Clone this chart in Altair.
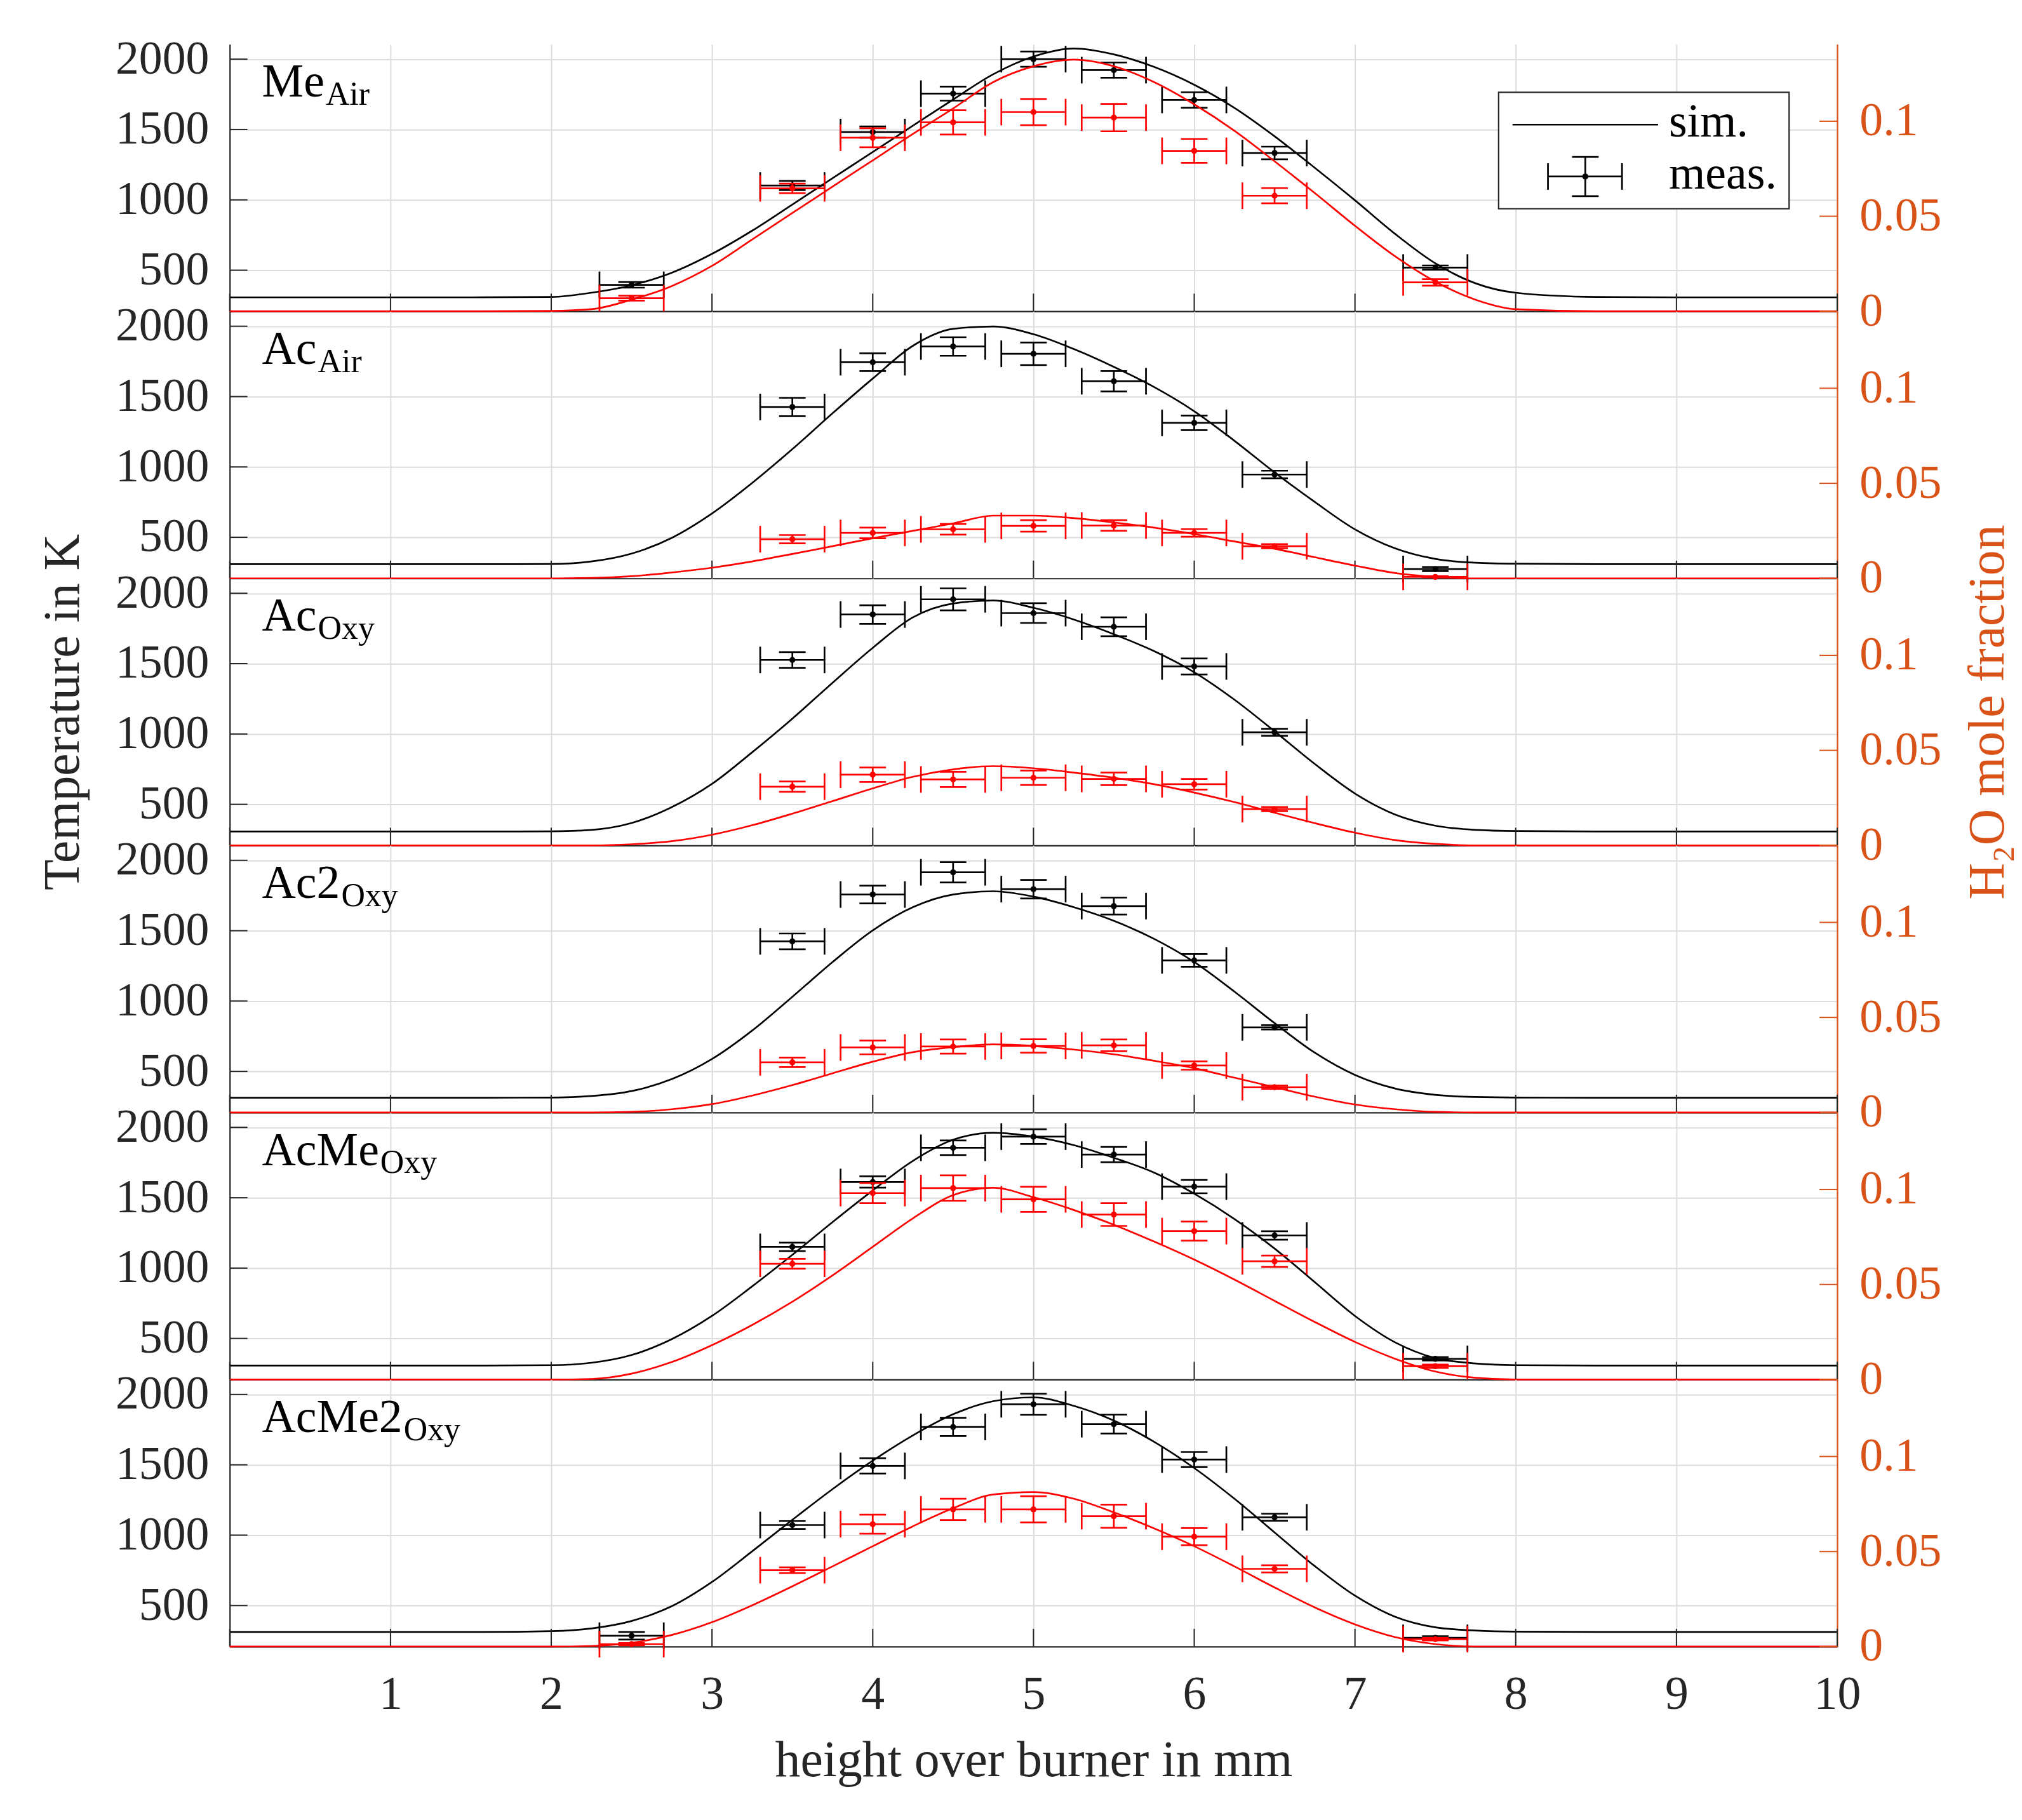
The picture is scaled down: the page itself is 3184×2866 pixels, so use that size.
import altair as alt
import pandas as pd

# ---------------- data ----------------
X_SIM = [0, 1, 1.5, 2, 2.25, 2.5, 2.75, 3, 3.25, 3.5, 3.75, 4, 4.25, 4.5, 4.75,
         5, 5.25, 5.5, 5.75, 6, 6.25, 6.5, 6.75, 7, 7.25, 7.5, 7.75, 8, 8.5, 9, 10]

LABEL_MAIN = ["Me", "Ac", "Ac", "Ac2", "AcMe", "AcMe2"]
LABEL_SUB = ["Air", "Air", "Oxy", "Oxy", "Oxy", "Oxy"]

T_SIM = [
    [307, 307, 307, 310, 340, 393, 482, 616, 781, 967, 1154, 1340, 1527, 1713, 1893, 2019, 2076, 2034, 1945, 1818, 1654, 1452, 1228, 997, 758, 549, 407, 340, 310, 307, 307],
    [309, 309, 309, 310, 328, 384, 496, 669, 886, 1126, 1381, 1628, 1861, 1981, 1998, 1943, 1838, 1711, 1568, 1396, 1186, 961, 751, 556, 421, 346, 319, 312, 309, 309, 309],
    [307, 307, 307, 308, 318, 367, 480, 645, 870, 1109, 1364, 1612, 1829, 1927, 1949, 1897, 1814, 1709, 1589, 1439, 1244, 1019, 787, 577, 427, 348, 318, 310, 307, 307, 307],
    [313, 313, 313, 314, 325, 360, 445, 588, 790, 1030, 1277, 1502, 1667, 1757, 1780, 1742, 1667, 1570, 1442, 1277, 1067, 843, 633, 475, 378, 333, 318, 314, 313, 313, 313],
    [307, 307, 307, 310, 327, 382, 495, 660, 870, 1094, 1327, 1552, 1762, 1912, 1961, 1934, 1874, 1784, 1679, 1529, 1349, 1139, 900, 660, 472, 360, 322, 310, 307, 307, 307],
    [312, 312, 312, 318, 337, 390, 495, 667, 885, 1109, 1327, 1529, 1709, 1859, 1952, 1979, 1919, 1814, 1664, 1477, 1259, 1019, 780, 570, 420, 345, 322, 314, 312, 312, 312],
]
H_SIM = [
    [0, 0, 0, 0.0002, 0.0011, 0.0061, 0.0133, 0.0239, 0.0378, 0.0517, 0.0656, 0.0794, 0.0933, 0.1067, 0.1206, 0.1289, 0.1324, 0.1289, 0.1206, 0.1089, 0.095, 0.0789, 0.0622, 0.045, 0.0289, 0.0156, 0.0061, 0.0011, 0, 0, 0],
    [0, 0, 0, 0, 0.0002, 0.0011, 0.0031, 0.0056, 0.0089, 0.0128, 0.0169, 0.0211, 0.025, 0.0289, 0.033, 0.033, 0.0317, 0.0294, 0.0267, 0.0233, 0.0194, 0.0156, 0.0111, 0.0067, 0.0028, 0.0008, 0, 0, 0, 0, 0],
    [0, 0, 0, 0, 0, 0.0006, 0.0022, 0.0056, 0.0106, 0.0167, 0.0233, 0.03, 0.0361, 0.04, 0.0417, 0.0406, 0.0383, 0.0356, 0.0322, 0.0278, 0.0228, 0.0172, 0.0117, 0.0067, 0.0028, 0.0008, 0, 0, 0, 0, 0],
    [0, 0, 0, 0, 0, 0.0003, 0.0017, 0.0044, 0.0089, 0.0144, 0.0206, 0.0267, 0.0317, 0.0344, 0.0358, 0.035, 0.0331, 0.0306, 0.0272, 0.0233, 0.0183, 0.0133, 0.0083, 0.0042, 0.0017, 0.0003, 0, 0, 0, 0, 0],
    [0, 0, 0, 0, 0.0003, 0.0031, 0.0092, 0.0181, 0.0287, 0.0409, 0.0548, 0.0698, 0.0848, 0.097, 0.1009, 0.0959, 0.0892, 0.0814, 0.0726, 0.0631, 0.0526, 0.0414, 0.0303, 0.0198, 0.0109, 0.0042, 0.0009, 0, 0, 0, 0],
    [0, 0, 0, 0, 0.0003, 0.002, 0.0061, 0.0128, 0.0217, 0.0317, 0.0422, 0.0528, 0.0633, 0.0728, 0.08, 0.0813, 0.0778, 0.0706, 0.0622, 0.0528, 0.0422, 0.0311, 0.0206, 0.0117, 0.005, 0.0013, 0, 0, 0, 0, 0],
]

X_MEAS = [
    [2.5, 3.5, 4, 4.5, 5, 5.5, 6, 6.5, 7.5],
    [3.5, 4, 4.5, 5, 5.5, 6, 6.5, 7.5],
    [3.5, 4, 4.5, 5, 5.5, 6, 6.5],
    [3.5, 4, 4.5, 5, 5.5, 6, 6.5],
    [3.5, 4, 4.5, 5, 5.5, 6, 6.5, 7.5],
    [2.5, 3.5, 4, 4.5, 5, 5.5, 6, 6.5, 7.5],
]
X_ERR = 0.2
T_MEAS = [
    [396, 1102, 1482, 1755, 2000, 1922, 1710, 1333, 519],
    [1426, 1744, 1856, 1804, 1609, 1313, 946, 274],
    [1526, 1849, 1957, 1859, 1762, 1480, 1012],
    [1424, 1757, 1915, 1795, 1675, 1289, 813],
    [1151, 1612, 1855, 1934, 1807, 1579, 1232, 355],
    [285, 1072, 1492, 1769, 1930, 1789, 1537, 1127, 270],
]
T_ERR = [
    [20, 33, 40, 50, 54, 54, 55, 45, 15],
    [65, 63, 66, 80, 72, 52, 27, 15],
    [56, 66, 78, 70, 67, 57, 25],
    [56, 63, 72, 66, 60, 45, 15],
    [30, 40, 52, 52, 54, 47, 30, 12],
    [27, 28, 54, 65, 75, 67, 54, 25, 12],
]
H_MEAS = [
    [0.0069, 0.0647, 0.0913, 0.0994, 0.1048, 0.1019, 0.0844, 0.0608, 0.0152],
    [0.0206, 0.0239, 0.0258, 0.0276, 0.0278, 0.0239, 0.0169, 0.0008],
    [0.0309, 0.0372, 0.0347, 0.0356, 0.035, 0.0322, 0.0191],
    [0.0264, 0.0342, 0.0347, 0.035, 0.0353, 0.0247, 0.0133],
    [0.0609, 0.0981, 0.1007, 0.0948, 0.0868, 0.0781, 0.0622, 0.007],
    [0.0013, 0.0402, 0.0644, 0.0722, 0.0722, 0.0686, 0.0578, 0.0409, 0.0039],
]
H_ERR = [
    [0.0013, 0.0025, 0.005, 0.0064, 0.0069, 0.0072, 0.0063, 0.004, 0.0017],
    [0.0022, 0.0028, 0.0028, 0.003, 0.0028, 0.002, 0.0011, 0.0003],
    [0.0027, 0.0038, 0.004, 0.0038, 0.0033, 0.0028, 0.0011],
    [0.0025, 0.0036, 0.0037, 0.0035, 0.0031, 0.0022, 0.0009],
    [0.0026, 0.0053, 0.0067, 0.0066, 0.006, 0.005, 0.003, 0.0009],
    [0.0006, 0.0015, 0.005, 0.0056, 0.0069, 0.0061, 0.0045, 0.0019, 0.0006],
]

T_TICKS = [500, 1000, 1500, 2000]
H_TICKS = [0, 0.05, 0.1]
X_TICKS = list(range(0, 11))
X_LABELS = list(range(1, 11))

# ---------------- style ----------------
W, PH = 2540, 422
T_DOM = [208, 2106]
H_DOM = [0, 0.1405]
ORANGE = "#D95319"
RED = "#FF0000"
AX = "#262626"
FONT = "Liberation Serif"
LW = 2.7
CAP = 42
TICK = 28
LBL = 74
TTL = 80

# approximate advance widths (em) for subscript placement
CW = {"A": 0.722, "c": 0.444, "e": 0.444, "M": 0.889, "2": 0.5}

xs = alt.Scale(domain=[0, 10], nice=False, zero=False)
ts = alt.Scale(domain=T_DOM, nice=False, zero=False)
hs = alt.Scale(domain=H_DOM, nice=False, zero=False)
one = alt.Data(values=[{"k": 1}])


def meas_layers(df, yfield, efield, scale, color):
    base = alt.Chart(df).transform_calculate(
        xl=f"datum.x - {X_ERR}", xr=f"datum.x + {X_ERR}",
        lo=f"datum.{yfield} - datum.{efield}", hi=f"datum.{yfield} + datum.{efield}")
    X = lambda f: alt.X(f"{f}:Q", scale=xs)
    Y = lambda f: alt.Y(f"{f}:Q", scale=scale)
    hbar = base.mark_rule(color=color, strokeWidth=LW).encode(x=X("xl"), x2="xr:Q", y=Y(yfield))
    vbar = base.mark_rule(color=color, strokeWidth=LW).encode(x=X("x"), y=Y("lo"), y2="hi:Q")
    c1 = base.mark_tick(color=color, orient="vertical", size=CAP, thickness=LW, opacity=1).encode(x=X("xl"), y=Y(yfield))
    c2 = base.mark_tick(color=color, orient="vertical", size=CAP, thickness=LW, opacity=1).encode(x=X("xr"), y=Y(yfield))
    c3 = base.mark_tick(color=color, orient="horizontal", size=CAP, thickness=LW, opacity=1).encode(x=X("x"), y=Y("lo"))
    c4 = base.mark_tick(color=color, orient="horizontal", size=CAP, thickness=LW, opacity=1).encode(x=X("x"), y=Y("hi"))
    dot = base.mark_circle(color=color, size=90, opacity=1).encode(x=X("x"), y=Y(yfield))
    return [hbar, vbar, c1, c2, c3, c4, dot]


def panel(i):
    bottom = i == 5
    middle = i == 2
    sim = pd.DataFrame({"x": X_SIM, "T": T_SIM[i], "H": H_SIM[i]})
    meas = pd.DataFrame({"x": X_MEAS[i], "T": T_MEAS[i], "Te": T_ERR[i],
                         "H": H_MEAS[i], "He": H_ERR[i]})

    xkw = dict(values=X_LABELS, grid=True, ticks=False, domain=True, labels=bottom,
               format="d", labelFlush=False, labelOverlap=False)
    if bottom:
        xkw.update(title="height over burner in mm", labelPadding=40, titlePadding=28)
    else:
        xkw.update(title="")
    tkw = dict(orient="left", values=T_TICKS, grid=True, ticks=False, labelPadding=33,
               format="d", labelFlush=False, labelOverlap=False)
    if middle:
        tkw.update(title="Temperature in K", titlePadding=41)
    else:
        tkw.update(title="")
    hkw = dict(orient="right", values=H_TICKS, grid=False, ticks=False, labelPadding=35,
               format=".2~f", labelColor=ORANGE, domainColor=ORANGE, titleColor=ORANGE,
               labelFlush=False, labelOverlap=False)
    if middle:
        hkw.update(title="H₂O mole fraction", titlePadding=35, titleAngle=270, titleBaseline="top")
    else:
        hkw.update(title="")

    # ---- temperature (left axis) group ----
    t_line = alt.Chart(sim).mark_line(color="black", strokeWidth=LW, interpolate="monotone").encode(
        x=alt.X("x:Q", scale=xs, axis=alt.Axis(**xkw)),
        y=alt.Y("T:Q", scale=ts, axis=alt.Axis(**tkw)))
    t_ticks = alt.Chart(pd.DataFrame({"t": T_TICKS})).mark_rule(color=AX, strokeWidth=2).encode(
        y=alt.Y("t:Q", scale=ts), x=alt.value(0), x2=alt.value(TICK))
    x_ticks = alt.Chart(pd.DataFrame({"xt": X_TICKS})).mark_rule(color=AX, strokeWidth=2).encode(
        x=alt.X("xt:Q", scale=xs), y=alt.value(PH - TICK), y2=alt.value(PH))
    main = LABEL_MAIN[i]
    wmain = sum(CW.get(c, 0.5) for c in main) * LBL
    lab1 = alt.Chart(one).mark_text(font=FONT, fontSize=LBL, align="left", baseline="alphabetic",
                                    color="black").encode(
        x=alt.value(51), y=alt.value(83), text=alt.value(main))
    lab2 = alt.Chart(one).mark_text(font=FONT, fontSize=52, align="left", baseline="alphabetic",
                                    color="black").encode(
        x=alt.value(51 + wmain + 2), y=alt.value(96), text=alt.value(LABEL_SUB[i]))
    t_group = alt.layer(t_line, t_ticks, x_ticks,
                        *meas_layers(meas, "T", "Te", ts, "black"), lab1, lab2)

    # ---- H2O (right axis) group ----
    h_line = alt.Chart(sim).mark_line(color=RED, strokeWidth=LW, interpolate="monotone").encode(
        x=alt.X("x:Q", scale=xs),
        y=alt.Y("H:Q", scale=hs, axis=alt.Axis(**hkw)))
    h_ticks = alt.Chart(pd.DataFrame({"h": H_TICKS})).mark_rule(color=ORANGE, strokeWidth=2).encode(
        y=alt.Y("h:Q", scale=hs), x=alt.value(W - TICK), x2=alt.value(W))
    h_layers = [h_line, h_ticks] + meas_layers(meas, "H", "He", hs, RED)

    if i == 0:
        box = alt.Chart(one).mark_rect(fill="white", stroke=AX, strokeWidth=2.2).encode(
            x=alt.value(2005), x2=alt.value(2464), y=alt.value(76), y2=alt.value(260))
        lline = alt.Chart(one).mark_rule(color="black", strokeWidth=LW).encode(
            x=alt.value(2027), x2=alt.value(2257), y=alt.value(127))
        lh = alt.Chart(one).mark_rule(color="black", strokeWidth=LW).encode(
            x=alt.value(2083), x2=alt.value(2200), y=alt.value(209))
        lv = alt.Chart(one).mark_rule(color="black", strokeWidth=LW).encode(
            x=alt.value(2142), y=alt.value(178), y2=alt.value(240))
        lc1 = alt.Chart(one).mark_rule(color="black", strokeWidth=LW).encode(
            x=alt.value(2083), y=alt.value(188), y2=alt.value(230))
        lc2 = alt.Chart(one).mark_rule(color="black", strokeWidth=LW).encode(
            x=alt.value(2200), y=alt.value(188), y2=alt.value(230))
        lc3 = alt.Chart(one).mark_rule(color="black", strokeWidth=LW).encode(
            x=alt.value(2121), x2=alt.value(2163), y=alt.value(178))
        lc4 = alt.Chart(one).mark_rule(color="black", strokeWidth=LW).encode(
            x=alt.value(2121), x2=alt.value(2163), y=alt.value(240))
        ldot = alt.Chart(one).mark_circle(color="black", size=90, opacity=1).encode(
            x=alt.value(2142), y=alt.value(209))
        lt1 = alt.Chart(one).mark_text(font=FONT, fontSize=LBL, align="left", baseline="middle",
                                       color="black").encode(
            x=alt.value(2274), y=alt.value(124), text=alt.value("sim."))
        lt2 = alt.Chart(one).mark_text(font=FONT, fontSize=LBL, align="left", baseline="middle",
                                       color="black").encode(
            x=alt.value(2274), y=alt.value(206), text=alt.value("meas."))
        h_layers += [box, lline, lh, lv, lc1, lc2, lc3, lc4, ldot, lt1, lt2]

    h_group = alt.layer(*h_layers)
    return alt.layer(t_group, h_group).resolve_scale(y="independent").properties(width=W, height=PH)


chart = alt.vconcat(*[panel(i) for i in range(6)], spacing=0, bounds="flush").properties(
    padding={"left": 52, "top": 43, "right": 5, "bottom": 5}
).configure_view(stroke=None).configure_axis(
    labelFont=FONT, titleFont=FONT, labelFontSize=LBL, titleFontSize=TTL,
    titleFontWeight="normal", labelColor=AX, titleColor=AX,
    domainColor=AX, domainWidth=2.2, gridColor="#dcdcdc", gridWidth=2,
    labelLimit=400, titleLimit=2000
)

chart.save("out.html", embed_options={"renderer": "svg", "actions": False})
